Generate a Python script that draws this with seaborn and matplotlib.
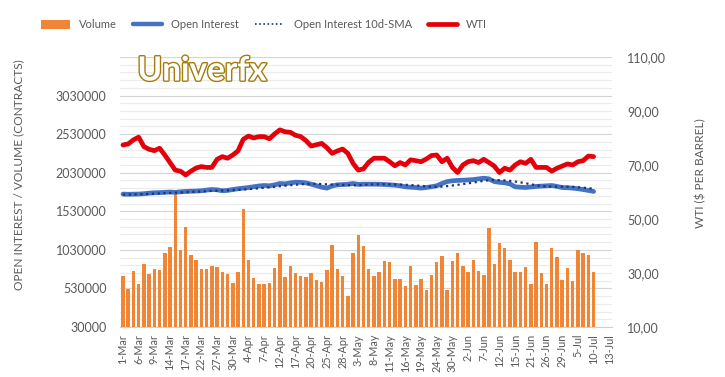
import numpy as np
import pandas as pd
import matplotlib
matplotlib.use("Agg")
import matplotlib.pyplot as plt
import matplotlib.patheffects as pe
from matplotlib.ticker import FuncFormatter
from matplotlib.lines import Line2D
from matplotlib.patches import Patch
import seaborn as sns

# ---------------- data ----------------
trading_days = pd.bdate_range("2023-03-01", "2023-07-13", freq="C",
                              holidays=["2023-05-29", "2023-06-19", "2023-07-04"])
day_labels = [f"{d.day}-{d.strftime('%b')}" for d in trading_days]

volume = [687, 529, 761, 588, 842, 713, 777, 765, 988, 1061,
          1753, 1022, 1332, 962, 893, 777, 777, 820, 803, 739,
          722, 601, 748, 1560, 897, 670, 588, 588, 601, 790,
          980, 683, 820, 726, 696, 683, 735, 640, 614, 773,
          1091, 777, 696, 438, 992, 1219, 1085, 777, 696, 748,
          884, 868, 652, 652, 562, 820, 575, 652, 507, 709,
          868, 949, 507, 881, 988, 816, 739, 893, 761, 709,
          1310, 846, 1125, 1057, 893, 739, 739, 803, 588, 1138,
          735, 588, 1048, 941, 636, 790, 623, 1026, 992, 962,
          748]  # thousands of contracts

open_interest = [1753, 1750, 1752, 1753, 1758, 1765, 1770, 1772, 1776, 1779,
                 1775, 1782, 1787, 1790, 1792, 1796, 1805, 1812, 1808, 1796,
                 1800, 1812, 1822, 1830, 1838, 1848, 1858, 1864, 1860, 1872,
                 1890, 1885, 1898, 1907, 1905, 1898, 1881, 1862, 1842, 1830,
                 1858, 1873, 1876, 1880, 1890, 1878, 1881, 1881, 1881, 1880,
                 1877, 1873, 1868, 1860, 1847, 1842, 1838, 1830, 1838, 1848,
                 1860, 1890, 1915, 1925, 1930, 1933, 1936, 1941, 1950, 1959,
                 1950, 1915, 1905, 1899, 1885, 1847, 1842, 1838, 1845, 1852,
                 1856, 1860, 1864, 1852, 1838, 1835, 1830, 1822, 1812, 1800,
                 1787]

oi_sma10 = [1745, 1746, 1748, 1750, 1752, 1755, 1758, 1762, 1765, 1768,
            1771, 1774, 1777, 1780, 1783, 1786, 1790, 1794, 1797, 1799,
            1801, 1804, 1808, 1812, 1817, 1822, 1828, 1835, 1841, 1848,
            1855, 1862, 1868, 1874, 1880, 1884, 1886, 1885, 1883, 1879,
            1876, 1874, 1872, 1869, 1867, 1868, 1872, 1876, 1879, 1880,
            1880, 1879, 1878, 1876, 1873, 1869, 1865, 1859, 1853, 1849,
            1847, 1850, 1856, 1864, 1873, 1882, 1892, 1902, 1914, 1925,
            1932, 1934, 1933, 1930, 1924, 1915, 1905, 1893, 1880, 1868,
            1858, 1852, 1849, 1849, 1850, 1849, 1846, 1841, 1836, 1830,
            1822]

wti = [77.4, 77.8, 79.3, 80.3, 76.8, 75.8, 75.3, 76.2, 73.7, 70.9,
       68.1, 67.7, 66.3, 67.7, 68.9, 69.4, 69.1, 69.1, 72.1, 73.1,
       72.5, 73.7, 75.2, 79.5, 80.7, 80.0, 80.5, 80.5, 79.7, 81.5,
       83.0, 82.3, 82.1, 81.0, 80.5, 79.0, 77.0, 77.5, 78.0, 76.4,
       74.3, 75.2, 75.9, 74.3, 70.6, 68.1, 68.6, 71.0, 72.5, 72.5,
       72.5, 71.2, 69.7, 70.9, 70.0, 71.9, 71.6, 71.2, 72.2, 73.5,
       73.7, 71.2, 72.5, 69.1, 67.2, 70.0, 71.2, 71.6, 70.9, 72.1,
       70.9, 69.6, 67.2, 68.8, 68.1, 70.0, 71.2, 70.6, 72.1, 69.1,
       69.1, 69.1, 67.7, 68.8, 69.6, 70.4, 70.0, 71.2, 71.6, 73.3,
       73.1]

left_ticks = [30000, 530000, 1030000, 1530000, 2030000, 2530000, 3030000]
right_ticks = [10, 30, 50, 70, 90, 110]

# ---------------- style ----------------
sns.set_theme(style="white")
plt.rcParams["font.family"] = ["Lato", "DejaVu Sans"]
TXT = "#595959"

n = len(volume)
df = pd.DataFrame({
    "pos": np.arange(n),
    "date": day_labels[:n],
    "volume": np.array(volume) * 1000,
    "oi": np.array(open_interest) * 1000,
    "sma": np.array(oi_sma10) * 1000,
    "wti": wti,
})

fig = plt.figure(figsize=(7.25, 3.77), dpi=100)
ax = fig.add_axes([0.166, 0.1326, 0.678, 0.7163])
ax2 = ax.twinx()

C_BAR = "#EF8535"
C_OI = "#4472C4"
C_SMA = "#1F3470"
C_WTI = "#E3000B"

sns.barplot(data=df, x="pos", y="volume", native_scale=True, width=0.66,
            color=C_BAR, saturation=1, linewidth=0, ax=ax, zorder=3)
sns.lineplot(data=df, x="pos", y="oi", color=C_OI, linewidth=3.4, ax=ax, zorder=4)
sns.lineplot(data=df, x="pos", y="sma", color=C_SMA, linewidth=1.6,
             linestyle=(0, (1, 1.6)), ax=ax, zorder=5)
sns.lineplot(data=df, x="pos", y="wti", color=C_WTI, linewidth=3.4, ax=ax2, zorder=5)

ncat = len(day_labels)
ax.set_xlim(-0.5, ncat - 0.5)
ax.set_ylim(30000, 3530000)
ax2.set_ylim(10, 110)

# gridlines
for v in np.arange(30000, 3530001, 100000):
    major = (v - 30000) % 500000 == 0
    ax.axhline(v, color="#D4D4D4" if major else "#EBEBEB", lw=0.8, zorder=0)

ax.set_yticks(left_ticks)
ax.set_yticklabels([str(t) for t in left_ticks])
ax2.set_yticks(right_ticks)
ax2.yaxis.set_major_formatter(FuncFormatter(lambda v, p: f"{v:.2f}".replace(".", ",")))
ax.grid(False)
ax2.grid(False)

ax.set_xticks(np.arange(ncat))
ax.set_xticklabels([lab if i % 3 == 0 else "" for i, lab in enumerate(day_labels)],
                   rotation=90)
ax.tick_params(axis="x", length=3, width=0.6, color="#D0D0D0", labelsize=7.8,
               labelcolor=TXT, pad=2)
ax.tick_params(axis="y", length=0, labelsize=9, labelcolor=TXT, pad=10)
ax2.tick_params(axis="y", length=0, labelsize=9, labelcolor=TXT, pad=11)

for a in (ax, ax2):
    for s in a.spines.values():
        s.set_visible(False)
ax.spines["bottom"].set_visible(True)
ax.spines["bottom"].set_color("#D0D0D0")
ax.spines["bottom"].set_linewidth(0.8)

ax.set_xlabel("")
ax.set_ylabel("OPEN INTEREST / VOLUME (CONTRACTS)", fontsize=8.6, color=TXT)
ax.yaxis.set_label_coords(-0.195, 0.563)
ax2.set_ylabel("WTI ($ PER BARREL)", fontsize=8.6, color=TXT, rotation=90)
ax2.yaxis.set_label_coords(1.17, 0.568)

# watermark
wm = ax.text(0.166, 0.948, "Univerfx", transform=ax.transAxes, ha="center",
             va="center", fontsize=24, fontweight="bold",
             color="white", zorder=6)
wm.set_path_effects([pe.Stroke(linewidth=2.0, foreground="#A47C0C"), pe.Normal()])

# legend
handles = [
    Patch(facecolor=C_BAR, edgecolor="none"),
    Line2D([], [], color=C_OI, lw=3.2),
    Line2D([], [], color=C_SMA, lw=1.2, linestyle=(0, (1, 1.5))),
    Line2D([], [], color=C_WTI, lw=3.4),
]
labels = ["Volume", "Open Interest", "Open Interest 10d-SMA", "WTI"]
leg = fig.legend(handles, labels, loc="center", bbox_to_anchor=(264 / 725, 1 - 25 / 377),
                 ncol=4, frameon=False, fontsize=8.0, handlelength=2.6,
                 handleheight=0.8, handletextpad=0.85, columnspacing=1.45)
for t in leg.get_texts():
    t.set_color(TXT)

fig.savefig("out.png", dpi=100)
